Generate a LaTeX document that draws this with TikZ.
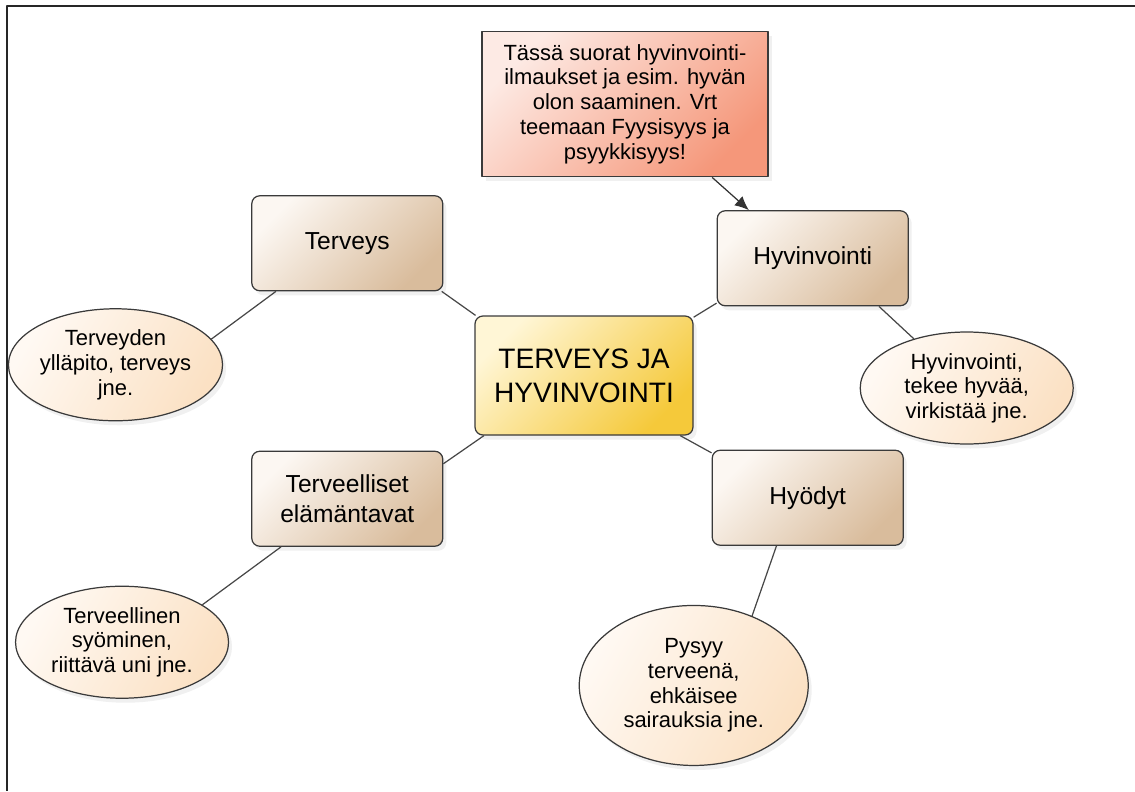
\documentclass[tikz,border=0pt]{standalone}
\usepackage{fontspec}
\setmainfont{Liberation Sans}
\usepackage{tikz}
\usetikzlibrary{shapes,arrows,arrows.meta,positioning,calc,shadows}
\definecolor{edgegray}{HTML}{3A3A3A}
\definecolor{linegray}{HTML}{474747}
\definecolor{boxlight}{HTML}{FCF7F2}
\definecolor{boxdark}{HTML}{D9BC9C}
\definecolor{ovallight}{HTML}{FFF9F3}
\definecolor{ovaldark}{HTML}{FBE1C4}
\definecolor{midlight}{HTML}{FFF6D6}
\definecolor{middark}{HTML}{F5C93A}
\definecolor{notelight}{HTML}{FDEAE4}
\definecolor{notedark}{HTML}{F5977A}
\tikzstyle{softshadow} = [drop shadow={opacity=0.12, shadow xshift=0.07cm, shadow yshift=-0.09cm}]
\tikzstyle{topic} = [draw=edgegray, line width=0.7pt, rectangle, rounded corners=0.16cm, minimum width=3.82cm, minimum height=1.9cm, align=center, top color=boxlight, bottom color=boxdark, shading angle=45, softshadow, font=\fontsize{14}{17.5}\selectfont]
\tikzstyle{idea} = [draw=edgegray, line width=0.7pt, ellipse, inner sep=0pt, minimum width=4.26cm, minimum height=2.24cm, align=center, top color=ovallight, bottom color=ovaldark, shading angle=60, softshadow, font=\fontsize{12.5}{14}\selectfont]
\tikzstyle{link} = [draw=linegray, line width=0.7pt]

\begin{document}
\begin{tikzpicture}[>={Latex[length=8pt,width=7pt]}, line join=round]
  \useasboundingbox (0,0) rectangle (22.7,-15.82);
  % Frame
  \draw [line width=1.3pt, black!85] (22.7,-0.12) -- (0.14,-0.12) -- (0.14,-15.82);

  % Nodes
  \node [topic, minimum width=4.36cm, minimum height=2.38cm, top color=midlight, bottom color=middark, shading angle=45, font=\fontsize{16}{19.5}\selectfont] (mid) at (11.68,-7.51) {TERVEYS JA\\HYVINVOINTI};
  \node [topic, above left=0.48cm and 0.62cm of mid] (terv) {Terveys};
  \node [topic, above right=0.18cm and 0.46cm of mid] (hyv) {Hyvinvointi};
  \node [topic, below left=0.30cm and 0.62cm of mid] (elam) {Terveelliset\\elämäntavat};
  \node [topic, below right=0.28cm and 0.36cm of mid] (hyod) {Hyödyt};
  \node [topic, rounded corners=0pt, minimum width=5.72cm, minimum height=2.9cm, top color=notelight, bottom color=notedark, shading angle=45, font=\fontsize{12.5}{14.2}\selectfont, above=2.76cm of mid, xshift=0.82cm] (huom) {Tässä suorat hyvinvointi-\\ilmaukset ja esim. hyvän\\olon saaminen. Vrt\\teemaan Fyysisyys ja\\psyykkisyys!};

  \node [idea, left=0.56cm of terv, yshift=-2.43cm] (e1) {Terveyden\\ylläpito, terveys\\jne.};
  \node [idea, below=0.5cm of hyv, xshift=3.08cm] (e2) {Hyvinvointi,\\tekee hyvää,\\virkistää jne.};
  \node [idea, left=0.44cm of elam, yshift=-2.87cm] (e3) {Terveellinen\\syöminen,\\riittävä uni jne.};
  \node [idea, minimum width=4.58cm, minimum height=3.2cm, below=1.18cm of hyod, xshift=-2.28cm] (e4) {Pysyy\\terveenä,\\ehkäisee\\sairauksia jne.};

  % Links
  \draw [link] (terv.333) -- (mid.151);
  \draw [link] (hyv.205) -- (mid.28);
  \draw [link] (elam.20) -- (mid.211);
  \draw [link] (hyod.155) -- (mid.328);
  \draw [link] (terv.214) -- (e1.15);
  \draw [link] (hyv.324) -- (e2);
  \draw [link] (elam.216) -- (e3.25);
  \draw [link] (hyod.237) -- (e4.50);
  \draw [link, draw=black!80, ->] (huom.320) -- (hyv.143);
\end{tikzpicture}
\end{document}
